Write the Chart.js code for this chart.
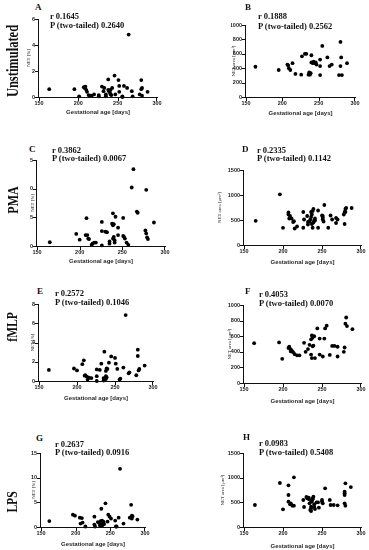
<!DOCTYPE html>
<html>
<head>
<meta charset="utf-8">
<script src="https://cdn.jsdelivr.net/npm/chart.js@4.4.1/dist/chart.umd.min.js"></script>
<style>
  body { margin: 0; background: #fff; }
  #fig { position: relative; width: 369px; height: 550px; overflow: hidden; background: #fff; }
  canvas { position: absolute; }
  .txt { position: absolute; font-family: 'Liberation Serif', serif; font-weight: bold; line-height: 1; white-space: nowrap; color: #111; }
  .row { position: absolute; font-family: 'Liberation Serif', serif; font-weight: bold; line-height: 1; white-space: nowrap; color: #111;
         transform: translate(-50%, -50%) rotate(-90deg) scaleY(1.3); }
</style>
</head>
<body>
<div id="fig"></div>
<script>
// gestational age [days] vs NET values, one pair of arrays per panel
const ageA = [163,195,201,207,208,209,210,211,213,215,217,220,226,226,230,232,233,235,235,238,238,239,240,241,241,242,243,246,247,251,252,252,256,256,258,262,264,268,269,278,280,280,281,281,288]
const netA = [0.6,0.6,0.05,0.75,0.7,0.8,0.55,0.4,0.15,0.1,0.1,0.2,0.15,0.05,0.8,0.45,0.7,0.05,0.2,1.35,0.55,0.45,0.35,0.55,0.2,0.15,0.7,1.65,0.2,1.3,0.85,0.4,0.0,0.05,0.85,0.7,4.8,0.45,0.05,0.2,1.3,0.6,0.7,0.1,0.4]

const ageB = [163,195,207,208,209,211,214,218,226,227,231,233,236,237,237,238,239,240,240,242,243,245,246,247,252,252,252,255,262,265,268,278,280,281,280,282,289]
const areaB = [420,375,450,440,400,375,470,320,310,565,600,600,310,340,320,310,330,580,480,470,490,470,480,450,520,430,305,710,550,430,450,305,765,550,430,305,470]

const ageC = [165,196,200,208,207,209,210,211,214,215,217,219,226,226,230,232,226,235,235,238,239,240,239,242,239,240,241,241,245,245,251,251,252,253,255,257,261,263,267,268,278,278,277,279,280,287]
const netC = [0.65,2.1,1.1,4.85,1.9,1.9,1.3,1.2,0.2,0.4,0.6,0.6,4.2,2.6,2.5,2.4,0.1,0.4,0.8,3.9,3.6,3.8,5.7,5.1,1.3,1.6,1.0,0.6,3.2,1.9,4.9,1.75,1.6,1.3,0.6,0.2,10.2,13.4,6.0,5.8,9.8,2.2,2.7,1.5,1.2,4.1]

const ageD = [165,196,200,207,207,209,208,211,213,214,215,218,226,226,227,231,232,232,234,235,236,237,238,239,236,237,239,240,241,241,238,245,245,250,251,251,253,251,252,258,261,263,268,270,268,278,279,280,281,280,279,288]
const areaD = [483,1013,344,650,610,580,530,530,460,475,330,370,660,345,510,580,460,410,470,510,660,610,680,720,560,420,450,490,490,530,345,690,345,590,545,580,800,510,470,345,590,510,540,510,440,610,660,720,740,660,420,740]

const ageE = [163,196,200,207,209,210,211,213,214,216,219,226,226,226,230,232,235,235,236,238,238,238,239,239,240,242,245,250,251,253,256,257,261,264,268,269,278,280,280,281,282,289]
const netE = [1.15,1.3,1.1,1.75,2.15,0.55,0.6,0.45,0.15,0.35,0.3,1.2,0.5,0.0,1.15,1.8,0.3,0.05,3.05,0.5,0.2,1.05,1.3,0.4,1.25,1.9,2.55,2.4,1.8,1.25,0.15,0.25,1.4,6.85,0.8,0.9,0.6,3.25,2.6,1.1,1.25,1.6]

const ageF = [163,195,199,207,208,209,210,211,213,215,218,221,227,229,232,234,236,237,238,240,238,239,236,237,241,244,247,247,251,253,254,256,260,263,266,270,270,278,279,280,281,282,289]
const areaF = [510,520,310,450,465,440,405,420,395,370,355,355,515,400,435,490,560,610,580,600,470,480,365,320,320,700,570,365,340,570,700,735,360,475,475,465,340,400,455,760,840,730,690]

const ageG = [162,196,199,206,209,207,210,214,227,227,228,232,234,236,237,238,239,240,241,237,243,246,247,249,251,257,258,259,262,264,269,278,280,281,281,282,289,235,238,240]
const netG = [1.2,2.5,2.3,1.9,1.8,0.7,0.9,0.1,2.1,0.5,0.1,1.0,0.8,1.2,0.5,1.3,0.6,0.9,0.6,3.7,4.8,1.1,2.5,2.1,1.7,1.3,0.1,0.1,1.9,11.8,0.7,1.9,4.5,2.3,1.7,2.2,1.5,0.3,0.2,1.1]

const ageH = [164,196,200,207,207,207,209,210,212,214,214,226,227,230,231,233,233,234,236,237,238,239,238,235,236,236,236,240,241,240,243,245,246,250,251,250,254,260,261,265,270,279,279,279,279,280,280,287]
const areaH = [446,892,358,845,649,514,460,480,432,432,1007,547,405,608,581,595,568,480,527,514,560,614,581,345,378,324,412,412,365,460,500,500,392,547,480,514,784,547,446,446,440,716,683,649,480,432,885,810]

// tick labels
const ageTicks = [150, 200, 250, 300]
const pctTicks6 = [0, 2, 4, 6]
const pctTicks8 = [0, 2, 4, 6, 8]
const pctTicks15 = [0, 5, 10, 15]
const areaTicks1000 = [0, 200, 400, 600, 800, 1000]
const areaTicks1500 = [0, 500, 1000, 1500]

// correlation texts
const letters = ['A', 'B', 'C', 'D', 'E', 'F', 'G', 'H']
const rVals = ['0.1645', '0.1888', '0.3862', '0.2335', '0.2572', '0.4053', '0.2637', '0.0983']
const pVals = ['0.2640', '0.2562', '0.0067', '0.1142', '0.1046', '0.0070', '0.0916', '0.5408']
const stimuli = ['Unstimulated', 'PMA', 'fMLP', 'LPS']

const pctTitle = 'NET [%]'
const areaTitle = 'NET area [µm²]'

// layout of each panel (page px): plot box, title offsets, text anchors
const panels = [
	{ x: ageA, y: netA, ticks: pctTicks6, title: pctTitle, L: 39, R: 157, T: 19, B: 97, yOff: 10, xOff: 15, let: [35, 5], r: [50, 13.3], p: [50, 22] },
	{ x: ageB, y: areaB, ticks: areaTicks1000, title: areaTitle, L: 246, R: 355, T: 25, B: 97, yOff: 12, xOff: 16, let: [245, 5], r: [258, 13.3], p: [258, 23] },
	{ x: ageC, y: netC, ticks: pctTicks15, title: pctTitle, L: 37, R: 165, T: 160, B: 246, yOff: 4.5, xOff: 15.5, let: [29, 147], r: [52, 147], p: [52, 155.5] },
	{ x: ageD, y: areaD, ticks: areaTicks1500, title: areaTitle, L: 244, R: 361, T: 170, B: 245, yOff: 24, xOff: 17, let: [242, 147], r: [257, 147], p: [257, 155.5] },
	{ x: ageE, y: netE, ticks: pctTicks8, title: pctTitle, L: 39, R: 153, T: 304, B: 381, yOff: 5.7, xOff: 17, let: [37, 288.5], r: [55, 290], p: [55, 299] },
	{ x: ageF, y: areaF, ticks: areaTicks1000, title: areaTitle, L: 244, R: 361, T: 305, B: 383, yOff: 14, xOff: 18.5, let: [245, 288.5], r: [259, 291], p: [259, 300] },
	{ x: ageG, y: netG, ticks: pctTicks15, title: pctTitle, L: 41, R: 145, T: 453, B: 527, yOff: 7.4, xOff: 17.5, let: [36, 436], r: [55, 441.7], p: [55, 449.5] },
	{ x: ageH, y: areaH, ticks: areaTicks1500, title: areaTitle, L: 244, R: 361, T: 453, B: 527, yOff: 21, xOff: 19, let: [243, 435], r: [259, 440], p: [259, 449.5] }
]
const rowLabels = [
	{ cx: 13, cy: 61, size: 12.5 },
	{ cx: 13, cy: 200, size: 12 },
	{ cx: 13, cy: 327, size: 11.5 },
	{ cx: 13, cy: 502, size: 11.5 }
]

const fig = document.getElementById('fig')
const padL = 18, padT = 6, padR = 10
const yTitleSize = 4.8, xTitleSize = 6
const tickLen = 3
const tickFont = { family: 'Liberation Sans', size: 5.5, weight: 'bold' }

// axis lines + outward tick marks as 1px filled rects, placed by the chart's scales
const axesPlugin = {
	id: 'axes',
	afterDraw(chart) {
		const { ctx, chartArea: a, scales } = chart
		const x0 = Math.round(a.left)
		const y0 = Math.round(a.bottom)
		const top = Math.round(a.top)
		const right = Math.round(a.right)
		ctx.save()
		ctx.fillStyle = '#111'
		ctx.fillRect(x0 - 1, top, 1, y0 - top + 1)
		ctx.fillRect(x0 - 1, y0, right - x0 + 2, 1)
		scales.x.ticks.forEach((t) => {
			const px = Math.round(scales.x.getPixelForValue(t.value))
			ctx.fillRect(Math.min(px, right) - (px >= right ? 1 : 0), y0 + 1, 1, tickLen)
		})
		scales.y.ticks.forEach((t) => {
			const py = Math.round(scales.y.getPixelForValue(t.value))
			ctx.fillRect(x0 - 1 - tickLen, Math.min(py, y0), tickLen, 1)
		})
		ctx.restore()
	}
}

const addText = (txt, x, capTop, size) => {
	const d = document.createElement('div')
	d.className = 'txt'
	d.textContent = txt
	d.style.left = x + 'px'
	d.style.top = (capTop - 0.175 * size) + 'px'
	d.style.fontSize = size + 'px'
	fig.appendChild(d)
}

const axisStyle = (ticks) => ({
	border: { display: false },
	grid: { display: false, drawTicks: true, tickLength: tickLen },
	afterBuildTicks: (s) => { s.ticks = ticks.map((v) => ({ value: v })) },
	ticks: { font: tickFont, color: '#222', padding: 1, autoSkip: false, maxRotation: 0, callback: (v) => String(v) }
})

panels.forEach((p, i) => {
	const W = Math.round(p.yOff + (yTitleSize * 1.2) / 2)
	const H = Math.round(p.xOff + (xTitleSize * 1.2) / 2)
	const pw = p.R - p.L, ph = p.B - p.T
	const cv = document.createElement('canvas')
	const w = padL + W + pw + padR
	const h = padT + ph + H
	cv.width = w; cv.height = h
	cv.style.width = w + 'px'; cv.style.height = h + 'px'
	cv.style.left = (p.L - W - padL) + 'px'
	cv.style.top = (p.T - padT) + 'px'
	fig.appendChild(cv)

	const xAxis = axisStyle(ageTicks)
	xAxis.ticks.padding = 0
	const yAxis = axisStyle(p.ticks)

	new Chart(cv.getContext('2d'), {
		type: 'scatter',
		data: {
			datasets: [{
				data: p.x.map((v, k) => ({ x: v, y: p.y[k] })),
				pointRadius: 1.9,
				pointBackgroundColor: '#000',
				pointBorderWidth: 0,
				showLine: false,
				clip: false
			}]
		},
		options: {
			responsive: false,
			animation: false,
			layout: { padding: { left: padL, top: padT, right: padR, bottom: 0 } },
			plugins: { legend: { display: false }, tooltip: { enabled: false } },
			scales: {
				x: {
					type: 'linear', min: ageTicks[0], max: ageTicks[ageTicks.length - 1],
					...xAxis,
					afterFit: (s) => { s.height = H },
					title: { display: true, text: 'Gestational age [days]', color: '#2a2a2a', padding: 0,
						font: { family: 'Liberation Sans', size: xTitleSize, weight: 'bold' } }
				},
				y: {
					type: 'linear', min: p.ticks[0], max: p.ticks[p.ticks.length - 1],
					...yAxis,
					afterFit: (s) => { s.width = W },
					title: { display: true, text: p.title, color: '#222', padding: 0,
						font: { family: 'Liberation Serif', size: yTitleSize } }
				}
			}
		},
		plugins: [axesPlugin]
	})

	addText(letters[i], p.let[0], p.let[1], 9)
	addText('r ' + rVals[i], p.r[0], p.r[1], 8.5)
	addText('P (two-tailed) ' + pVals[i], p.p[0], p.p[1], 8.5)
})

stimuli.forEach((s, i) => {
	const d = document.createElement('div')
	d.className = 'row'
	d.textContent = s
	d.style.left = rowLabels[i].cx + 'px'
	d.style.top = rowLabels[i].cy + 'px'
	d.style.fontSize = rowLabels[i].size + 'px'
	fig.appendChild(d)
})
</script>
</body>
</html>
